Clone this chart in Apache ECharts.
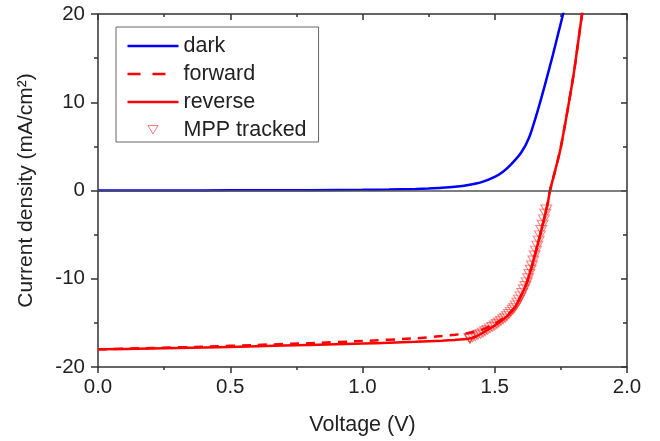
<!DOCTYPE html>
<html>
<head>
<meta charset="utf-8">
<script src="https://cdn.jsdelivr.net/npm/echarts@6/dist/echarts.min.js"></script>
<style>
html,body{margin:0;padding:0;background:#fff;}
#c{width:660px;height:441px;}
</style>
</head>
<body>
<div id="c"></div>
<script>
// ---- data ----
const xTickLabels = ['0.0', '0.5', '1.0', '1.5', '2.0'];
const yTickLabels = ['-20', '-10', '0', '10', '20'];

const darkV = [0, 0.2, 0.4, 0.6, 0.8, 1.0, 1.1, 1.2, 1.25, 1.3, 1.35, 1.4, 1.45, 1.5, 1.53, 1.56, 1.6, 1.63, 1.66, 1.69, 1.72, 1.74, 1.76, 1.77];
const darkJ = [0.0, 0.0, 0.01, 0.02, 0.04, 0.08, 0.12, 0.18, 0.23, 0.3, 0.42, 0.62, 0.95, 1.55, 2.1, 2.9, 4.3, 6.0, 8.8, 12.0, 15.4, 17.8, 20.2, 21.5];

const fwdV = [0, 0.2, 0.4, 0.6, 0.8, 1.0, 1.2, 1.3, 1.35, 1.4, 1.45, 1.5, 1.545, 1.577, 1.595, 1.618, 1.64, 1.665, 1.685, 1.7, 1.709, 1.72, 1.747, 1.77, 1.8, 1.83, 1.84];
const fwdJ = [-18.0, -17.85, -17.7, -17.5, -17.3, -17.05, -16.75, -16.5, -16.35, -16.15, -15.8, -15.1, -14.2, -13.2, -12.2, -10.7, -8.6, -5.8, -3.4, -1.5, 0.0, 1.3, 4.5, 8.2, 13.5, 20.0, 21.7];

const revV = [0, 0.2, 0.4, 0.6, 0.8, 1.0, 1.1, 1.2, 1.3, 1.35, 1.4, 1.425, 1.45, 1.5, 1.545, 1.577, 1.595, 1.618, 1.64, 1.665, 1.685, 1.7, 1.709, 1.72, 1.747, 1.77, 1.8, 1.83, 1.84];
const revJ = [-18.0, -17.9, -17.8, -17.65, -17.5, -17.35, -17.25, -17.15, -17.02, -16.93, -16.8, -16.6, -16.2, -15.3, -14.3, -13.2, -12.2, -10.7, -8.6, -5.8, -3.4, -1.5, 0.0, 1.3, 4.5, 8.2, 13.5, 20.0, 21.7];

const mppV = [1.406, 1.416, 1.426, 1.436, 1.446, 1.455, 1.464, 1.473, 1.482, 1.491, 1.500, 1.508, 1.516, 1.524, 1.532, 1.540, 1.547, 1.554, 1.561, 1.568, 1.574, 1.580, 1.586, 1.592, 1.598, 1.604, 1.610, 1.616, 1.621, 1.626, 1.631, 1.636, 1.641, 1.646, 1.651, 1.656, 1.661, 1.666, 1.671, 1.676, 1.681, 1.686, 1.691, 1.695];
const mppJ = [-16.75, -16.63, -16.51, -16.38, -16.25, -16.11, -15.95, -15.79, -15.62, -15.46, -15.30, -15.12, -14.95, -14.77, -14.59, -14.41, -14.23, -13.99, -13.75, -13.51, -13.30, -13.03, -12.70, -12.37, -12.00, -11.61, -11.22, -10.83, -10.41, -9.94, -9.46, -8.98, -8.49, -7.93, -7.37, -6.81, -6.25, -5.68, -5.08, -4.48, -3.88, -3.27, -2.64, -2.15];

// ---- build chart ----
const pairs = (xs, ys) => xs.map((x, i) => [x, ys[i]]);
const FONT = 'Liberation Sans, Arial, sans-serif';
const AX = '#333';
const TXT = '#222';

// legend icons (line samples drawn as thin bars inside a 51x14 box)
const ICON_SOLID = 'path://M0,0M51,14M0,5.75L51,5.75L51,8.25L0,8.25Z';
const ICON_DASH = 'path://M0,0M51,14M0,5.75L13,5.75L13,8.25L0,8.25ZM25,5.75L38,5.75L38,8.25L25,8.25Z';
const ICON_TRI = 'path://M0,0M51,14M20.5,2.5L30.5,2.5L25.5,11Z';

const chart = echarts.init(document.getElementById('c'), null, {renderer: 'canvas'});

const baseX = {
  type: 'value', min: 0, max: 2, interval: 0.5,
  splitLine: {show: false},
  axisLine: {show: true, onZero: false, lineStyle: {color: AX, width: 1.5}},
  minorTick: {show: true, splitNumber: 2, length: 3, lineStyle: {color: AX, width: 1.5}}
};
const baseY = {
  type: 'value', min: -20, max: 20, interval: 10,
  splitLine: {show: false},
  axisLine: {show: true, onZero: false, lineStyle: {color: AX, width: 1.5}},
  minorTick: {show: true, splitNumber: 2, length: 4, lineStyle: {color: AX, width: 1.5}}
};

const mppData = pairs(mppV, mppJ).map((p, i) => i === 0
  ? {value: p, symbolSize: [11, 9], itemStyle: {borderColor: 'rgba(255,0,0,0.95)', borderWidth: 1.3}}
  : p);

chart.setOption({
  animation: false,
  backgroundColor: '#fff',
  textStyle: {fontFamily: FONT},
  grid: {left: 98, right: 33, top: 14, bottom: 73, containLabel: false},
  legend: {
    orient: 'vertical',
    left: 116, top: 27,
    padding: [8, 12, 1, 11],
    borderColor: '#666', borderWidth: 1,
    itemWidth: 51, itemHeight: 14, itemGap: 6,
    textStyle: {fontSize: 21.5, color: TXT, fontFamily: FONT},
    data: [
      {name: 'dark', icon: ICON_SOLID, itemStyle: {color: '#0000ff'}},
      {name: 'forward', icon: ICON_DASH, itemStyle: {color: '#ff0000'}},
      {name: 'reverse', icon: ICON_SOLID, itemStyle: {color: '#ff0000'}},
      {name: 'MPP tracked', icon: ICON_TRI,
       itemStyle: {color: 'rgba(255,255,255,0)', borderColor: 'rgba(255,60,60,0.85)', borderWidth: 1}}
    ]
  },
  xAxis: [
    Object.assign({}, baseX, {
      position: 'bottom',
      axisTick: {show: true, length: 6, lineStyle: {color: AX, width: 1.5}},
      axisLabel: {fontSize: 20.5, color: TXT, margin: 10, fontFamily: FONT,
        formatter: v => xTickLabels[Math.round(v / 0.5)]},
      name: 'Voltage (V)', nameLocation: 'middle', nameGap: 47,
      nameTextStyle: {fontSize: 21.5, color: TXT, fontFamily: FONT}
    }),
    Object.assign({}, baseX, {
      position: 'top',
      axisTick: {show: true, inside: true, length: 6, lineStyle: {color: AX, width: 1.5}},
      axisLabel: {show: false}
    })
  ],
  yAxis: [
    Object.assign({}, baseY, {
      position: 'left',
      axisTick: {show: true, length: 7, lineStyle: {color: AX, width: 1.5}},
      axisLabel: {fontSize: 20.5, color: TXT, margin: 13, fontFamily: FONT,
        formatter: v => yTickLabels[Math.round((v + 20) / 10)]},
      name: 'Current density (mA/cm²)', nameLocation: 'middle', nameGap: 61,
      nameTextStyle: {fontSize: 21, color: TXT, fontFamily: FONT}
    }),
    Object.assign({}, baseY, {
      position: 'right',
      axisTick: {show: true, inside: true, length: 6, lineStyle: {color: AX, width: 1.5}},
      axisLabel: {show: false}
    })
  ],
  series: [
    {
      name: 'dark', type: 'line', data: pairs(darkV, darkJ),
      showSymbol: false, symbol: 'none', clip: true, smooth: 0.25,
      lineStyle: {color: '#0000ff', width: 2.5}, itemStyle: {color: '#0000ff'},
      markLine: {
        silent: true, symbol: 'none', label: {show: false},
        lineStyle: {color: '#555', width: 1.5, type: 'solid'},
        data: [{yAxis: 0}]
      }
    },
    {
      name: 'forward', type: 'line', data: pairs(fwdV, fwdJ),
      showSymbol: false, symbol: 'none', clip: true, smooth: 0.2,
      lineStyle: {color: '#ff0000', width: 2.5, type: [9, 7]}, itemStyle: {color: '#ff0000'}
    },
    {
      name: 'reverse', type: 'line', data: pairs(revV, revJ),
      showSymbol: false, symbol: 'none', clip: true, smooth: 0.2,
      lineStyle: {color: '#ff0000', width: 2.5}, itemStyle: {color: '#ff0000'}
    },
    {
      name: 'MPP tracked', type: 'scatter', data: mppData,
      symbol: 'triangle', symbolRotate: 180, symbolSize: [11, 9],
      itemStyle: {color: 'rgba(255,255,255,0.15)', borderColor: 'rgba(255,30,30,0.7)', borderWidth: 1}
    }
  ]
});
</script>
</body>
</html>
